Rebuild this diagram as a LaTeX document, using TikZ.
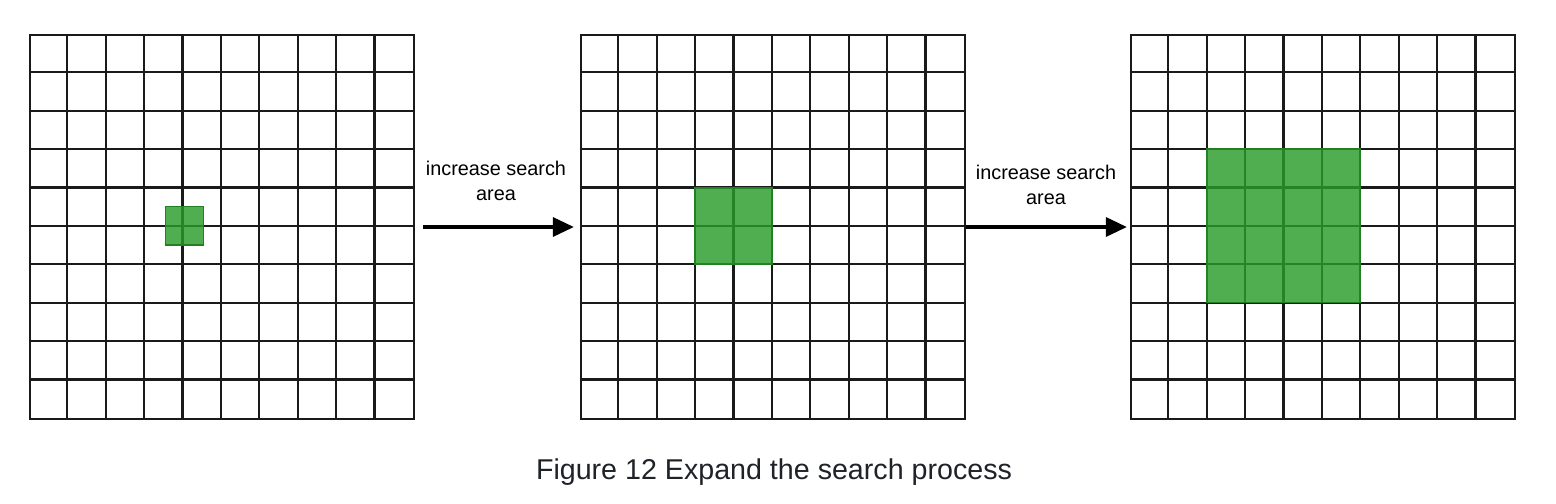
\documentclass[tikz,border=0pt]{standalone}
\usepackage{fontspec}
\setmainfont{Liberation Sans}
\usepackage{tikz}
\usepackage{xcolor}
\usetikzlibrary{arrows.meta, positioning, calc}

\definecolor{cellline}{RGB}{26,26,26}
\definecolor{hitgreen}{RGB}{41,156,41}
\definecolor{hitedge}{RGB}{34,128,34}
\definecolor{captext}{RGB}{31,35,40}

\begin{document}
\begin{tikzpicture}[
  x=0.02cm, y=-0.02cm,
  gridbox/.style={draw=cellline, line width=1.3pt, minimum size=7.68cm, inner sep=0pt},
  cell/.style={cellline, line width=1.3pt},
  hit/.style={fill=hitgreen, fill opacity=0.82, draw=hitedge, line width=0.8pt},
  arr/.style={-{Triangle[length=0.42cm, width=0.38cm]}, line width=1.9pt, black},
  lbl/.style={align=center, font=\fontsize{11.3}{14.2}\selectfont, inner sep=0pt},
  caption/.style={font=\fontsize{16.3}{20}\selectfont, text=captext, inner sep=0pt}
]
  \useasboundingbox (0,0) rectangle (1556,504);

  % three 10x10 grids
  \node[gridbox] (g1) at (222,227) {};
  \node[gridbox] (g2) at (773,227) {};
  \node[gridbox] (g3) at (1323,227) {};

  \foreach \g in {g1,g2,g3} {
    \foreach \i in {1,...,9} {
      \draw[cell] ($(\g.north west)+(\i*38.4,0)$) -- ++(0,384);
      \draw[cell] ($(\g.north west)+(0,\i*38.4)$) -- ++(384,0);
    }
  }

  % search areas
  \draw[hit] ($(g1.north west)+(3.55*38.4,4.5*38.4)$) rectangle ++(38.4,38.4);
  \draw[hit] ($(g2.north west)+(3*38.4,4*38.4)$) rectangle ++(76.8,76.8);
  \draw[hit] ($(g3.north west)+(2*38.4,3*38.4)$) rectangle ++(153.6,153.6);

  % steps
  \draw[arr, shorten <=8*0.02cm, shorten >=6*0.02cm] (g1.east) -- (g2.west);
  \draw[arr, shorten >=3*0.02cm] (g2.east) -- (g3.west);
  \node[lbl] (step1) at (496,180.5) {increase search\\area};
  \node[lbl] (step2) at (1046,184.5) {increase search\\area};

  \node[caption] (cap) at (774,472) {Figure 12 Expand the search process};
\end{tikzpicture}
\end{document}
